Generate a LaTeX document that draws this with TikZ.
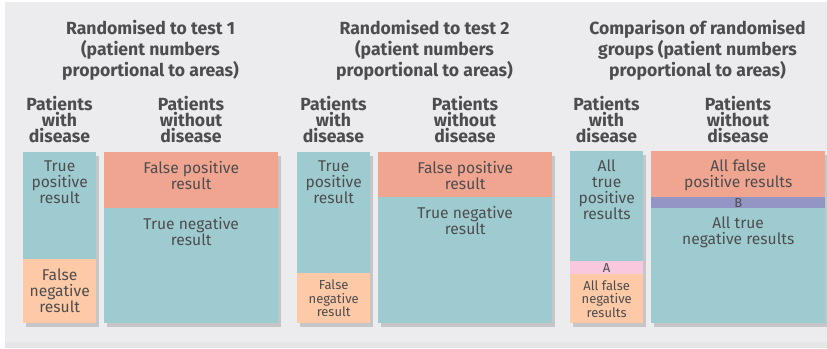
\documentclass[tikz,border=0pt]{standalone}
\usepackage{fontspec}
\setmainfont{Fira Sans}
\usepackage{tikz}
\usetikzlibrary{shadows}
\definecolor{back_gray}{RGB}{236,236,238}
\definecolor{foot_gray}{RGB}{230,230,232}
\definecolor{shade_gray}{RGB}{198,198,200}
\definecolor{text_gray}{RGB}{77,77,79}
\definecolor{cell_teal}{RGB}{158,203,207}
\definecolor{cell_salmon}{RGB}{239,165,144}
\definecolor{cell_peach}{RGB}{253,201,166}
\definecolor{cell_pink}{RGB}{248,200,222}
\definecolor{cell_purple}{RGB}{147,150,196}

\begin{document}
\begin{tikzpicture}[x=1pt,y=-1pt]
    \tikzstyle{cell}=[rectangle, inner sep=0pt, anchor=north west, text=text_gray,
      drop shadow={opacity=1, fill=shade_gray, shadow xshift=3pt, shadow yshift=-4pt}]
    \tikzstyle{tp}=[style=cell, fill=cell_teal]
    \tikzstyle{fp}=[style=cell, fill=cell_salmon]
    \tikzstyle{fn}=[style=cell, fill=cell_peach]
    \tikzstyle{gapa}=[style=cell, fill=cell_pink]
    \tikzstyle{gapb}=[style=cell, fill=cell_purple]
    \tikzstyle{txt}=[inner sep=0pt, anchor=north, align=center, text=text_gray,
      font=\fontsize{15.6}{16}\selectfont, execute at begin node=\strut]
    \tikzstyle{mid}=[align=center, font=\fontsize{15.6}{16}\selectfont]
    \tikzstyle{small}=[align=center, font=\fontsize{13}{13.5}\selectfont]
    \tikzstyle{head}=[inner sep=0pt, anchor=north, align=center, text=text_gray,
      font=\bfseries\fontsize{17.6}{20.8}\selectfont, execute at begin node=\strut]
    \tikzstyle{sub}=[inner sep=0pt, anchor=north, align=center, text=text_gray,
      font=\bfseries\fontsize{17.6}{16}\selectfont, execute at begin node=\strut]

    % background
    \useasboundingbox (0,0) rectangle (827,348);
    \fill[white] (0,0) rectangle (827,348);
    \fill[back_gray] (5,2) rectangle (827,342);
    \fill[foot_gray] (5,342) rectangle (827,348);

    % test 1
    \node[head] (h1) at (150.5,20.5) {Randomised to test 1\\(patient numbers\\proportional to areas)};
    \node[sub]  (d1) at (59.5,95.8)  {Patients\\with\\disease};
    \node[sub]  (n1) at (191,95.8)   {Patients\\without\\disease};
    \node[tp, minimum width=73, minimum height=107] (tp1) at (23,152) {};
    \node[fn, mid, minimum width=73, minimum height=64] (fn1) at (23,259) {False\\negative\\result};
    \node[fp, minimum width=174, minimum height=56] (fp1) at (104,152) {};
    \node[tp, minimum width=174, minimum height=115] (tn1) at (104,208) {};
    \node[txt] (ttp1) at ([yshift=-8.8]tp1.north) {True\\positive\\result};
    \node[txt] (tfp1) at ([yshift=-8.8]fp1.north) {False positive\\result};
    \node[txt] (ttn1) at ([yshift=-8.8]tn1.north) {True negative\\result};

    % test 2
    \node[head] (h2) at (424.5,20.5) {Randomised to test 2\\(patient numbers\\proportional to areas)};
    \node[sub]  (d2) at (333.5,95.8) {Patients\\with\\disease};
    \node[sub]  (n2) at (465,95.8)   {Patients\\without\\disease};
    \node[tp, minimum width=73, minimum height=121] (tp2) at (297,152) {};
    \node[fn, small, minimum width=73, minimum height=50] (fn2) at (297,273) {False\\negative\\result};
    \node[fp, minimum width=174, minimum height=45] (fp2) at (378,152) {};
    \node[tp, minimum width=174, minimum height=126] (tn2) at (378,197) {};
    \node[txt] (ttp2) at ([yshift=-8.8]tp2.north) {True\\positive\\result};
    \node[txt] (tfp2) at ([yshift=-8.8]fp2.north) {False positive\\result};
    \node[txt] (ttn2) at ([yshift=-8.8]tn2.north) {True negative\\result};

    % comparison
    \node[head] (h3) at (697.5,20.5) {Comparison of randomised\\groups (patient numbers\\proportional to areas)};
    \node[sub]  (d3) at (606.5,95.8) {Patients\\with\\disease};
    \node[sub]  (n3) at (738,95.8)   {Patients\\without\\disease};
    \node[tp, minimum width=73, minimum height=110] (tp3) at (570,151) {};
    \node[gapa, small, minimum width=73, minimum height=13] (a3) at (570,261) {A};
    \node[fn, small, minimum width=73, minimum height=49] (fn3) at (570,274) {All false\\negative\\results};
    \node[fp, minimum width=174, minimum height=46] (fp3) at (651,151) {};
    \node[gapb, small, minimum width=174, minimum height=11] (b3) at (651,197) {B};
    \node[tp, minimum width=174, minimum height=115] (tn3) at (651,208) {};
    \node[txt] (ttp3) at ([yshift=-8.8]tp3.north) {All\\true\\positive\\results};
    \node[txt] (tfp3) at ([yshift=-8.8]fp3.north) {All false\\positive results};
    \node[txt] (ttn3) at ([yshift=-8.8]tn3.north) {All true\\negative results};
\end{tikzpicture}
\end{document}
